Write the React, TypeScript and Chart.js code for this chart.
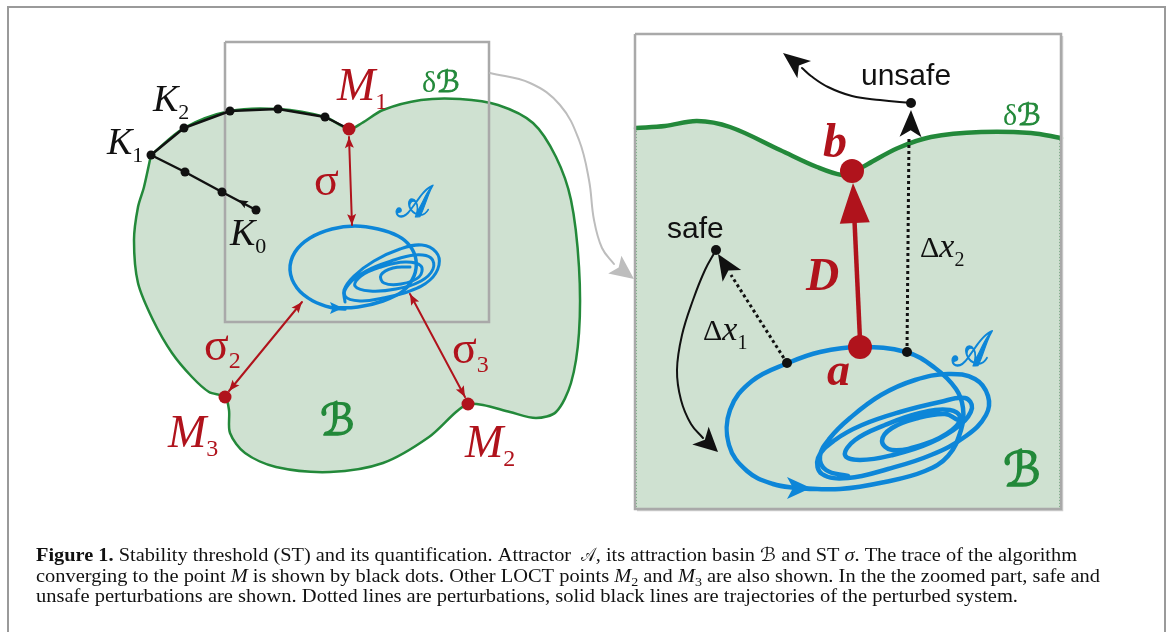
import React, { useEffect, useRef } from "react";
import { Chart, registerables } from "chart.js";
Chart.register(...registerables);

type P = [number, number];

// ---------- shapes (data units of the drawing plane) ----------
const FRAME: P[] = [[8, 720], [8, 7], [1165, 7], [1165, 720]];

// left panel: basin of attraction, clockwise from K1
const BASIN_LEFT: P[] = [
  [151, 155], [184, 128], [230, 111], [278, 109], [325, 117], [349, 129],
  [362, 123], [383, 110], [421, 100], [460, 99], [498, 105], [533, 123], [556, 157],
  [571, 200], [579, 267], [579, 333], [571, 383], [556, 412], [536, 418], [510, 412],
  [483, 405], [468, 404], [456, 412], [429, 437], [383, 463], [330, 472], [276, 467],
  [245, 453], [230, 433], [229, 410], [225, 397], [209, 392], [192, 377], [172, 353],
  [153, 320], [138, 283], [134, 240], [138, 207], [144, 187], [151, 155],
];
const ZOOM_BOX: P[] = [[225, 42], [489, 42], [489, 322], [225, 322], [225, 42]];
const ZOOM_LINK: P[] = [[490, 73], [530, 83], [560, 105], [579, 140], [589, 180], [594, 220], [602, 248], [614, 264]];
const SEARCH_TRACE: P[] = [[256, 210], [222, 192], [185, 172], [151, 155], [184, 128], [230, 111], [278, 109], [325, 117], [349, 129]];
const TRACE_DOTS: P[] = [[256, 210], [222, 192], [185, 172], [151, 155], [184, 128], [230, 111], [278, 109], [325, 117]];
const LOCT_POINTS: P[] = [[349, 129], [468, 404], [225, 397]];
const SIGMA_1: P[] = [[349, 137], [352, 225]];
const SIGMA_2: P[] = [[229, 391], [302, 302]];
const SIGMA_3: P[] = [[410, 294], [465, 397]];
const ATTR_LEFT_OUTER: P[] = [
  [333, 308], [358, 307], [383, 301], [403, 291], [414, 276], [416, 260], [410, 246], [398, 236],
  [378, 229], [355, 226], [332, 229], [310, 238], [295, 252], [290, 270], [297, 288], [313, 301], [333, 308], [345, 309],
];
const ATTR_LEFT_INNER: P[] = [
  [345, 302], [344, 290], [354, 276], [374, 261], [400, 249], [422, 245], [436, 252], [439, 265],
  [430, 280], [410, 291], [383, 298], [360, 301], [345, 296], [349, 284], [366, 271], [391, 261],
  [415, 255], [431, 258], [433, 269], [421, 281], [396, 289], [370, 291], [355, 286], [361, 276],
  [381, 267], [405, 262], [421, 266], [419, 277], [401, 284], [384, 283], [381, 275], [393, 268], [410, 267],
];

// right panel (zoomed part)
const PANEL_BOX: P[] = [[635, 34], [1061, 34], [1061, 509], [635, 509], [635, 34]];
const PANEL_SHADOW: P[] = [[1062.5, 36], [1062.5, 510.5], [637, 510.5]];
const BOUNDARY_RIGHT: P[] = [
  [636, 128], [665, 126], [697, 121], [730, 127], [780, 150], [817, 167], [842, 175], [853, 172],
  [868, 164], [898, 148], [931, 137], [981, 132], [1031, 133], [1061, 138],
];
const PANEL_EDGE_L: P[] = [[636, 131], [636, 508]];
const PANEL_EDGE_R: P[] = [[1060, 140], [1060, 508]];
const ATTR_RIGHT_OUTER: P[] = [
  [797, 488], [840, 489], [885, 482], [925, 471], [948, 456], [961, 430], [963, 408], [956, 389],
  [935, 368], [906, 352], [860, 347], [820, 352], [788, 363], [752, 381], [730, 410], [729, 445],
  [747, 471], [773, 484], [797, 488], [812, 489],
];
const ATTR_RIGHT_INNER: P[] = [
  [848, 476], [826, 470], [820, 456], [830, 438], [850, 418], [881, 395], [915, 380], [948, 374],
  [975, 379], [988, 396], [986, 415], [966, 436], [931, 455], [888, 469], [848, 478], [822, 474],
  [818, 458], [835, 440], [862, 425], [900, 412], [940, 402], [965, 398], [972, 408], [960, 425],
  [930, 443], [893, 455], [860, 460], [845, 455], [855, 440], [885, 425], [920, 413], [950, 410],
  [960, 417], [952, 430], [925, 444], [892, 450], [882, 441], [892, 428], [918, 418], [945, 414], [958, 420],
];
const POINT_A: P = [860, 347];
const POINT_B: P = [852, 171];
const D_SHAFT: P[] = [[860, 340], [854, 210]];
const D_TIP: P = [853, 183];
const UNSAFE_TRAJ: P[] = [[911, 103], [880, 100], [852, 96], [828, 87], [811, 76], [802, 68]];
const UNSAFE_TIP: P = [783, 53];
const SAFE_TRAJ: P[] = [[716, 250], [705, 270], [693, 300], [682, 335], [677, 370], [681, 400], [691, 424], [703, 438]];
const SAFE_TIP: P = [718, 452];
const DX1: P[] = [[787, 363], [731, 275]];
const DX1_TIP: P = [718, 254];
const DX2: P[] = [[907, 352], [909, 136]];
const DX2_TIP: P = [911, 110];
const BLACK_DOTS: P[] = [[716, 250], [911, 103], [787, 363], [907, 352]];

// ---------- colours / fonts ----------
const RED = "#b0131c";
const BLUE = "#0d86d8";
const GREEN = "#23893a";
const BASIN_FILL = "#cfe1d1";
const GRAY = "#a9a9a9";
const BLACK = "#111111";
const SERIF = '"Liberation Serif", "DejaVu Serif", serif';
const SANS = '"Liberation Sans", Arial, sans-serif';
const SCRIPT = '"DejaVu Serif", "DejaVu Sans", "Liberation Serif", serif';
const SCRIPT_A = "𝒜";
const SCRIPT_B = "ℬ";

type Run = { t: string; font: string; sub?: number; sx?: number; stroke?: number };
type Label = { at: P; color: string; runs: Run[] };

const LABELS: Label[] = [
  { at: [107, 154], color: BLACK, runs: [{ t: "K", font: `italic 38px ${SERIF}` }, { t: "1", font: `22px ${SERIF}`, sub: 8 }] },
  { at: [153, 111], color: BLACK, runs: [{ t: "K", font: `italic 38px ${SERIF}` }, { t: "2", font: `22px ${SERIF}`, sub: 8 }] },
  { at: [230, 245], color: BLACK, runs: [{ t: "K", font: `italic 38px ${SERIF}` }, { t: "0", font: `22px ${SERIF}`, sub: 8 }] },
  { at: [337, 100], color: RED, runs: [{ t: "M", font: `italic 46px ${SERIF}` }, { t: "1", font: `24px ${SERIF}`, sub: 9 }] },
  { at: [168, 447], color: RED, runs: [{ t: "M", font: `italic 46px ${SERIF}` }, { t: "3", font: `24px ${SERIF}`, sub: 9 }] },
  { at: [465, 457], color: RED, runs: [{ t: "M", font: `italic 46px ${SERIF}` }, { t: "2", font: `24px ${SERIF}`, sub: 9 }] },
  { at: [314, 195], color: RED, runs: [{ t: "σ", font: `46px ${SERIF}` }] },
  { at: [204, 360], color: RED, runs: [{ t: "σ", font: `46px ${SERIF}` }, { t: "2", font: `24px ${SERIF}`, sub: 8 }] },
  { at: [452, 363], color: RED, runs: [{ t: "σ", font: `46px ${SERIF}` }, { t: "3", font: `24px ${SERIF}`, sub: 9 }] },
  { at: [396, 217], color: BLUE, runs: [{ t: SCRIPT_A, font: `46px ${SCRIPT}`, sx: 0.78, stroke: 1.3 }] },
  { at: [320, 435], color: GREEN, runs: [{ t: SCRIPT_B, font: `44px ${SCRIPT}`, stroke: 1.4 }] },
  { at: [422, 92], color: GREEN, runs: [{ t: "δ", font: `30px ${SERIF}` }, { t: SCRIPT_B, font: `30px ${SCRIPT}`, stroke: 0.8 }] },
  { at: [861, 85], color: BLACK, runs: [{ t: "unsafe", font: `30px ${SANS}` }] },
  { at: [667, 238], color: BLACK, runs: [{ t: "safe", font: `30px ${SANS}` }] },
  { at: [823, 157], color: RED, runs: [{ t: "b", font: `bold italic 48px ${SERIF}` }] },
  { at: [806, 290], color: RED, runs: [{ t: "D", font: `bold italic 46px ${SERIF}` }] },
  { at: [827, 385], color: RED, runs: [{ t: "a", font: `bold italic 46px ${SERIF}` }] },
  { at: [703, 340], color: BLACK, runs: [{ t: "Δ", font: `30px ${SERIF}` }, { t: "x", font: `italic 34px ${SERIF}` }, { t: "1", font: `20px ${SERIF}`, sub: 9 }] },
  { at: [920, 257], color: BLACK, runs: [{ t: "Δ", font: `30px ${SERIF}` }, { t: "x", font: `italic 34px ${SERIF}` }, { t: "2", font: `20px ${SERIF}`, sub: 9 }] },
  { at: [952, 366], color: BLUE, runs: [{ t: SCRIPT_A, font: `50px ${SCRIPT}`, sx: 0.78, stroke: 1.4 }] },
  { at: [1003, 486], color: GREEN, runs: [{ t: SCRIPT_B, font: `48px ${SCRIPT}`, stroke: 1.5 }] },
  { at: [1003, 125], color: GREEN, runs: [{ t: "δ", font: `30px ${SERIF}` }, { t: SCRIPT_B, font: `30px ${SCRIPT}`, stroke: 0.8 }] },
];

const CAP = 19;
const CR = `${CAP}px ${SERIF}`;
const CI = `italic ${CAP}px ${SERIF}`;
const CB = `bold ${CAP}px ${SERIF}`;
const CS = `${CAP}px ${SCRIPT}`;
const CSUB = `13px ${SERIF}`;
const CAPTION_LINES: { at: P; end: number; runs: Run[] }[] = [
  {
    at: [36, 561], end: 1077,
    runs: [
      { t: "Figure 1.", font: CB },
      { t: " Stability threshold (ST) and its quantification. Attractor  ", font: CR },
      { t: SCRIPT_A, font: CS, sx: 0.75 },
      { t: ", its attraction basin ", font: CR },
      { t: SCRIPT_B, font: CS },
      { t: " and ST ", font: CR },
      { t: "σ", font: CI },
      { t: ". The trace of the algorithm", font: CR },
    ],
  },
  {
    at: [36, 582], end: 1100,
    runs: [
      { t: "converging to the point ", font: CR },
      { t: "M", font: CI },
      { t: " is shown by black dots. Other LOCT points ", font: CR },
      { t: "M", font: CI },
      { t: "2", font: CSUB, sub: 4 },
      { t: " and ", font: CR },
      { t: "M", font: CI },
      { t: "3", font: CSUB, sub: 4 },
      { t: " are also shown. In the the zoomed part, safe and", font: CR },
    ],
  },
  {
    at: [36, 602], end: 1018,
    runs: [{ t: "unsafe perturbations are shown. Dotted lines are perturbations, solid black lines are trajectories of the perturbed system.", font: CR }],
  },
];

type Head = { tip: P; from: P; len: number; hw: number; notch: number; color: string };
const HEADS: Head[] = [
  { tip: SIGMA_1[0], from: SIGMA_1[1], len: 11, hw: 4.5, notch: 0.8, color: RED },
  { tip: SIGMA_1[1], from: SIGMA_1[0], len: 11, hw: 4.5, notch: 0.8, color: RED },
  { tip: SIGMA_2[0], from: SIGMA_2[1], len: 11, hw: 4.5, notch: 0.8, color: RED },
  { tip: SIGMA_2[1], from: SIGMA_2[0], len: 11, hw: 4.5, notch: 0.8, color: RED },
  { tip: SIGMA_3[0], from: SIGMA_3[1], len: 11, hw: 4.5, notch: 0.8, color: RED },
  { tip: SIGMA_3[1], from: SIGMA_3[0], len: 11, hw: 4.5, notch: 0.8, color: RED },
  { tip: [238, 200], from: SEARCH_TRACE[0], len: 10, hw: 4, notch: 0.8, color: BLACK },
  { tip: [343, 308], from: [328, 308], len: 13, hw: 6, notch: 0.8, color: BLUE },
  { tip: [811, 488], from: [790, 488], len: 24, hw: 11, notch: 0.75, color: BLUE },
  { tip: [634, 279], from: ZOOM_LINK[ZOOM_LINK.length - 1], len: 24, hw: 11, notch: 0.8, color: "#bdbdbd" },
  { tip: D_TIP, from: D_SHAFT[0], len: 40, hw: 15, notch: 1, color: RED },
  { tip: UNSAFE_TIP, from: UNSAFE_TRAJ[UNSAFE_TRAJ.length - 1], len: 27, hw: 11, notch: 0.75, color: BLACK },
  { tip: SAFE_TIP, from: SAFE_TRAJ[SAFE_TRAJ.length - 1], len: 24, hw: 12, notch: 0.75, color: BLACK },
  { tip: DX1_TIP, from: DX1[0], len: 26, hw: 11, notch: 0.75, color: BLACK },
  { tip: DX2_TIP, from: DX2[0], len: 27, hw: 11, notch: 0.75, color: BLACK },
];

const pts = (a: P[]) => a.map(([x, y]) => ({ x, y }));
const line = (data: P[], color: string, width: number, extra: any = {}) => ({
  data: pts(data), borderColor: color, backgroundColor: color, borderWidth: width,
  pointRadius: 0, pointHoverRadius: 0, tension: 0, fill: false, showLine: true,
  borderCapStyle: "round", borderJoinStyle: "round", ...extra,
});
const dots = (data: P[], color: string, r: number) => ({
  data: pts(data), showLine: false, pointRadius: r, pointHoverRadius: r,
  pointBackgroundColor: color, pointBorderColor: color, pointBorderWidth: 0,
  borderColor: color, backgroundColor: color, fill: false,
});

// draws runs left-to-right starting at (0,0) of the current transform, returns width
function drawRuns(ctx: CanvasRenderingContext2D, runs: Run[], color: string, draw: boolean) {
  let cx = 0;
  for (const r of runs) {
    ctx.font = r.font;
    const sx = r.sx || 1;
    const w = ctx.measureText(r.t).width * sx;
    if (draw) {
      ctx.save();
      ctx.translate(cx, r.sub || 0);
      ctx.scale(sx, 1);
      ctx.fillStyle = color;
      ctx.fillText(r.t, 0, 0);
      if (r.stroke) {
        ctx.strokeStyle = color;
        ctx.lineWidth = r.stroke;
        ctx.lineJoin = "round";
        ctx.strokeText(r.t, 0, 0);
      }
      ctx.restore();
    }
    cx += w;
  }
  return cx;
}

const diagramPlugin = {
  id: "diagram",
  afterDatasetsDraw(chart: any) {
    const { ctx } = chart;
    const xs = chart.scales.x, ys = chart.scales.y;
    const px = (p: P) => [xs.getPixelForValue(p[0]), ys.getPixelForValue(p[1])];
    ctx.save();
    for (const h of HEADS) {
      const [tx, ty] = px(h.tip);
      const [fx, fy] = px(h.from);
      const d = Math.hypot(tx - fx, ty - fy);
      const ux = (tx - fx) / d, uy = (ty - fy) / d;
      const bx = tx - ux * h.len, by = ty - uy * h.len;
      const nx = tx - ux * h.len * h.notch, ny = ty - uy * h.len * h.notch;
      ctx.beginPath();
      ctx.moveTo(tx, ty);
      ctx.lineTo(bx - uy * h.hw, by + ux * h.hw);
      ctx.lineTo(nx, ny);
      ctx.lineTo(bx + uy * h.hw, by - ux * h.hw);
      ctx.closePath();
      ctx.fillStyle = h.color;
      ctx.fill();
    }
    ctx.restore();
  },
  afterDraw(chart: any) {
    const { ctx } = chart;
    const xs = chart.scales.x, ys = chart.scales.y;
    ctx.save();
    ctx.textBaseline = "alphabetic";
    ctx.textAlign = "left";
    for (const l of LABELS) {
      ctx.save();
      ctx.translate(xs.getPixelForValue(l.at[0]), ys.getPixelForValue(l.at[1]));
      drawRuns(ctx, l.runs, l.color, true);
      ctx.restore();
    }
    for (const ln of CAPTION_LINES) {
      const total = drawRuns(ctx, ln.runs, BLACK, false);
      const x0 = xs.getPixelForValue(ln.at[0]);
      const target = xs.getPixelForValue(ln.end) - x0;
      ctx.save();
      ctx.translate(x0, ys.getPixelForValue(ln.at[1]));
      ctx.scale(target / total, 1);
      drawRuns(ctx, ln.runs, BLACK, true);
      ctx.restore();
    }
    ctx.restore();
  },
};

export default function App() {
  const ref = useRef<HTMLCanvasElement | null>(null);
  useEffect(() => {
    document.body.style.margin = "0";
    const datasets: any[] = [
      line(FRAME, "#9a9a9a", 2, { borderCapStyle: "butt", borderJoinStyle: "miter" }),
      line(BASIN_LEFT, GREEN, 2.5, { fill: "shape", backgroundColor: BASIN_FILL, tension: 0.3 }),
      line(ZOOM_BOX, GRAY, 2.5, { borderCapStyle: "butt", borderJoinStyle: "miter" }),
      line(ZOOM_LINK, "#bdbdbd", 2, { tension: 0.4 }),
      line(BOUNDARY_RIGHT, GREEN, 4.5, { fill: { value: 509 }, backgroundColor: BASIN_FILL, tension: 0.35 }),
      line(PANEL_EDGE_L, GREEN, 1, { borderDash: [1, 2], borderCapStyle: "butt" }),
      line(PANEL_EDGE_R, GREEN, 1, { borderDash: [1, 2], borderCapStyle: "butt" }),
      line(PANEL_SHADOW, "#cfcfcf", 1.5, { borderCapStyle: "butt", borderJoinStyle: "miter" }),
      line(PANEL_BOX, GRAY, 2.5, { borderCapStyle: "butt", borderJoinStyle: "miter" }),
      line(ATTR_LEFT_OUTER, BLUE, 3.5, { tension: 0.4 }),
      line(ATTR_LEFT_INNER, BLUE, 3, { tension: 0.4 }),
      line(ATTR_RIGHT_OUTER, BLUE, 4.5, { tension: 0.4 }),
      line(ATTR_RIGHT_INNER, BLUE, 4.5, { tension: 0.4 }),
      line(SEARCH_TRACE, BLACK, 2.5),
      dots(TRACE_DOTS, BLACK, 4.5),
      line(SIGMA_1, RED, 2),
      line(SIGMA_2, RED, 2),
      line(SIGMA_3, RED, 2),
      dots(LOCT_POINTS, RED, 6.5),
      line(UNSAFE_TRAJ, BLACK, 2, { tension: 0.4 }),
      line(SAFE_TRAJ, BLACK, 2, { tension: 0.4 }),
      line(DX1, BLACK, 3, { borderDash: [3, 3], borderCapStyle: "butt" }),
      line(DX2, BLACK, 3, { borderDash: [3, 3], borderCapStyle: "butt" }),
      line(D_SHAFT, RED, 4.5, { borderCapStyle: "butt" }),
      dots([POINT_A, POINT_B], RED, 12),
      dots(BLACK_DOTS, BLACK, 5),
    ].map((d, i) => ({ ...d, order: -i }));

    const chart = new Chart(ref.current as HTMLCanvasElement, {
      type: "line",
      data: { datasets },
      options: {
        animation: false,
        responsive: false,
        devicePixelRatio: 1,
        layout: { padding: 0, autoPadding: false },
        events: [],
        plugins: { legend: { display: false }, tooltip: { enabled: false } },
        scales: {
          x: { type: "linear", min: 0, max: 1169, display: false },
          y: { type: "linear", min: 0, max: 632, reverse: true, display: false },
        },
      } as any,
      plugins: [diagramPlugin],
    });
    return () => chart.destroy();
  }, []);
  return (
    <div style={{ position: "absolute", left: 0, top: 0, width: 1169, height: 632, background: "#fff" }}>
      <canvas ref={ref} width={1169} height={632} style={{ display: "block" }} />
    </div>
  );
}
